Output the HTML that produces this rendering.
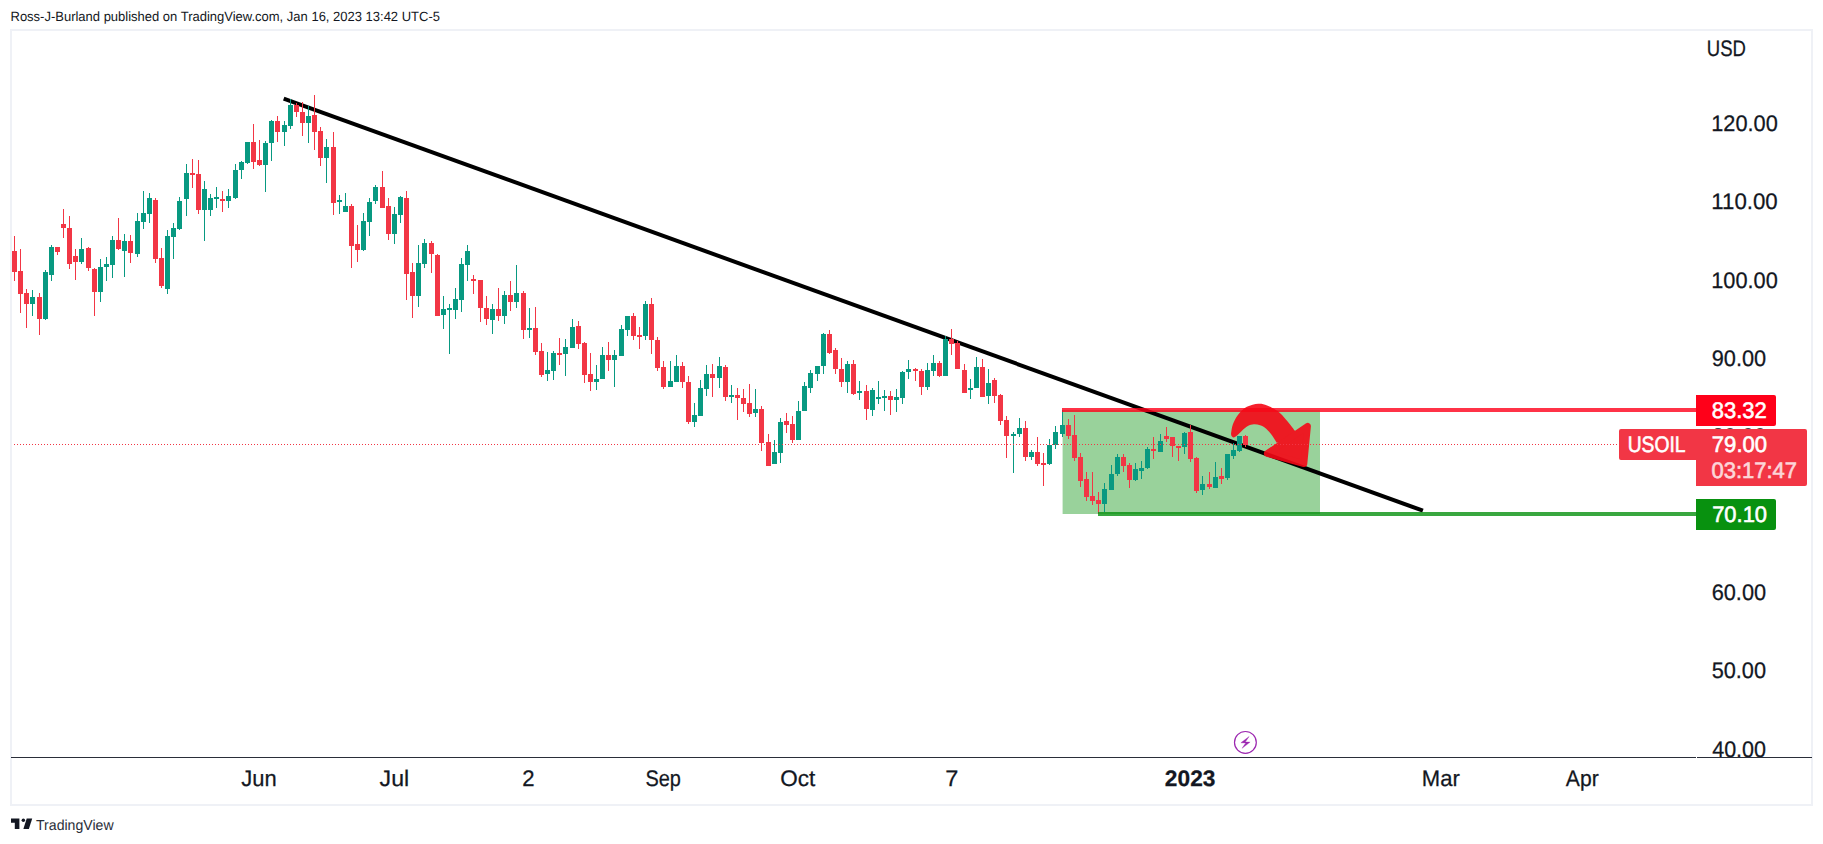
<!DOCTYPE html>
<html lang="en"><head><meta charset="utf-8"><title>USOIL chart</title>
<style>html,body{margin:0;padding:0;background:#fff;}body{width:1823px;height:844px;overflow:hidden;}svg{display:block;}text{font-family:"Liberation Sans", Arial, sans-serif;text-rendering:geometricPrecision;}</style>
</head><body>
<svg width="1823" height="844" viewBox="0 0 1823 844">
<rect x="0" y="0" width="1823" height="844" fill="#ffffff"/>
<text x="10.50" y="21.00" font-size="13.4" fill="#131722" textLength="429.46" lengthAdjust="spacingAndGlyphs">Ross-J-Burland published on TradingView.com, Jan 16, 2023 13:42 UTC-5</text>
<rect x="11" y="30" width="1801" height="775" fill="none" stroke="#eff1f6" stroke-width="2" shape-rendering="crispEdges"/>
<text x="1706.80" y="55.80" font-size="22.5" fill="#131722" stroke="#131722" stroke-width="0.25" textLength="39.15" lengthAdjust="spacingAndGlyphs">USD</text>
<text x="1711.23" y="131.00" font-size="22.5" fill="#131722" stroke="#131722" stroke-width="0.25" textLength="66.54" lengthAdjust="spacingAndGlyphs">120.00</text>
<text x="1711.30" y="209.00" font-size="22.5" fill="#131722" stroke="#131722" stroke-width="0.25" textLength="66.41" lengthAdjust="spacingAndGlyphs">110.00</text>
<text x="1711.23" y="288.00" font-size="22.5" fill="#131722" stroke="#131722" stroke-width="0.25" textLength="66.54" lengthAdjust="spacingAndGlyphs">100.00</text>
<text x="1711.70" y="366.00" font-size="22.5" fill="#131722" stroke="#131722" stroke-width="0.25" textLength="54.44" lengthAdjust="spacingAndGlyphs">90.00</text>
<text x="1711.88" y="444.00" font-size="22.5" fill="#131722" stroke="#131722" stroke-width="0.25" textLength="54.30" lengthAdjust="spacingAndGlyphs">80.00</text>
<text x="1711.76" y="522.00" font-size="22.5" fill="#131722" stroke="#131722" stroke-width="0.25" textLength="54.36" lengthAdjust="spacingAndGlyphs">70.00</text>
<text x="1711.68" y="600.00" font-size="22.5" fill="#131722" stroke="#131722" stroke-width="0.25" textLength="54.42" lengthAdjust="spacingAndGlyphs">60.00</text>
<text x="1711.64" y="678.00" font-size="22.5" fill="#131722" stroke="#131722" stroke-width="0.25" textLength="54.45" lengthAdjust="spacingAndGlyphs">50.00</text>
<clipPath id="c40"><rect x="1697" y="730" width="115" height="27"/></clipPath>
<text x="1712.17" y="757.00" font-size="22.5" fill="#131722" stroke="#131722" stroke-width="0.25" textLength="53.92" lengthAdjust="spacingAndGlyphs" clip-path="url(#c40)">40.00</text>
<rect x="1062.6" y="410" width="257.4" height="104" fill="#4caf50" fill-opacity="0.57"/>
<line x1="283.7" y1="98.6" x2="1422.9" y2="510.7" stroke="#000" stroke-width="4"/>
<g shape-rendering="crispEdges">
<rect x="14" y="236" width="1" height="45" fill="#f23645"/>
<rect x="12" y="251" width="5" height="21" fill="#f23645"/>
<rect x="20" y="249" width="1" height="64" fill="#f23645"/>
<rect x="18" y="271" width="5" height="23" fill="#f23645"/>
<rect x="26" y="289" width="1" height="39" fill="#f23645"/>
<rect x="24" y="293" width="5" height="11" fill="#f23645"/>
<rect x="32" y="290" width="1" height="26" fill="#089981"/>
<rect x="30" y="297" width="5" height="7" fill="#089981"/>
<rect x="39" y="293" width="1" height="42" fill="#f23645"/>
<rect x="37" y="297" width="5" height="22" fill="#f23645"/>
<rect x="45" y="270" width="1" height="50" fill="#089981"/>
<rect x="43" y="272" width="5" height="47" fill="#089981"/>
<rect x="51" y="245" width="1" height="36" fill="#089981"/>
<rect x="49" y="247" width="5" height="28" fill="#089981"/>
<rect x="57" y="247" width="1" height="8" fill="#f23645"/>
<rect x="55" y="247" width="5" height="5" fill="#f23645"/>
<rect x="63" y="209" width="1" height="29" fill="#f23645"/>
<rect x="61" y="224" width="5" height="4" fill="#f23645"/>
<rect x="69" y="216" width="1" height="53" fill="#f23645"/>
<rect x="67" y="228" width="5" height="36" fill="#f23645"/>
<rect x="75" y="249" width="1" height="31" fill="#f23645"/>
<rect x="73" y="256" width="5" height="6" fill="#f23645"/>
<rect x="81" y="238" width="1" height="26" fill="#089981"/>
<rect x="79" y="249" width="5" height="13" fill="#089981"/>
<rect x="88" y="247" width="1" height="24" fill="#f23645"/>
<rect x="86" y="248" width="5" height="20" fill="#f23645"/>
<rect x="94" y="268" width="1" height="48" fill="#f23645"/>
<rect x="92" y="269" width="5" height="23" fill="#f23645"/>
<rect x="100" y="259" width="1" height="43" fill="#089981"/>
<rect x="98" y="267" width="5" height="25" fill="#089981"/>
<rect x="106" y="257" width="1" height="24" fill="#089981"/>
<rect x="104" y="264" width="5" height="3" fill="#089981"/>
<rect x="112" y="236" width="1" height="42" fill="#089981"/>
<rect x="110" y="240" width="5" height="25" fill="#089981"/>
<rect x="118" y="218" width="1" height="32" fill="#f23645"/>
<rect x="116" y="240" width="5" height="9" fill="#f23645"/>
<rect x="124" y="234" width="1" height="43" fill="#089981"/>
<rect x="122" y="241" width="5" height="10" fill="#089981"/>
<rect x="130" y="235" width="1" height="28" fill="#f23645"/>
<rect x="128" y="241" width="5" height="12" fill="#f23645"/>
<rect x="137" y="213" width="1" height="44" fill="#089981"/>
<rect x="135" y="221" width="5" height="33" fill="#089981"/>
<rect x="143" y="191" width="1" height="38" fill="#089981"/>
<rect x="141" y="213" width="5" height="9" fill="#089981"/>
<rect x="149" y="193" width="1" height="30" fill="#089981"/>
<rect x="147" y="198" width="5" height="16" fill="#089981"/>
<rect x="155" y="198" width="1" height="65" fill="#f23645"/>
<rect x="153" y="200" width="5" height="59" fill="#f23645"/>
<rect x="161" y="248" width="1" height="40" fill="#f23645"/>
<rect x="159" y="258" width="5" height="28" fill="#f23645"/>
<rect x="167" y="230" width="1" height="64" fill="#089981"/>
<rect x="165" y="236" width="5" height="53" fill="#089981"/>
<rect x="173" y="223" width="1" height="36" fill="#089981"/>
<rect x="171" y="228" width="5" height="9" fill="#089981"/>
<rect x="179" y="197" width="1" height="33" fill="#089981"/>
<rect x="177" y="201" width="5" height="28" fill="#089981"/>
<rect x="186" y="164" width="1" height="52" fill="#089981"/>
<rect x="184" y="173" width="5" height="26" fill="#089981"/>
<rect x="192" y="159" width="1" height="29" fill="#f23645"/>
<rect x="190" y="173" width="5" height="2" fill="#f23645"/>
<rect x="198" y="160" width="1" height="54" fill="#f23645"/>
<rect x="196" y="174" width="5" height="36" fill="#f23645"/>
<rect x="204" y="181" width="1" height="60" fill="#089981"/>
<rect x="202" y="189" width="5" height="21" fill="#089981"/>
<rect x="210" y="194" width="1" height="22" fill="#089981"/>
<rect x="208" y="198" width="5" height="12" fill="#089981"/>
<rect x="216" y="187" width="1" height="21" fill="#089981"/>
<rect x="214" y="197" width="5" height="2" fill="#089981"/>
<rect x="222" y="191" width="1" height="21" fill="#f23645"/>
<rect x="220" y="199" width="5" height="2" fill="#f23645"/>
<rect x="228" y="189" width="1" height="19" fill="#089981"/>
<rect x="226" y="196" width="5" height="5" fill="#089981"/>
<rect x="235" y="164" width="1" height="35" fill="#089981"/>
<rect x="233" y="170" width="5" height="28" fill="#089981"/>
<rect x="241" y="161" width="1" height="18" fill="#089981"/>
<rect x="239" y="162" width="5" height="8" fill="#089981"/>
<rect x="247" y="142" width="1" height="22" fill="#089981"/>
<rect x="245" y="142" width="5" height="21" fill="#089981"/>
<rect x="253" y="124" width="1" height="45" fill="#f23645"/>
<rect x="251" y="142" width="5" height="20" fill="#f23645"/>
<rect x="259" y="140" width="1" height="26" fill="#f23645"/>
<rect x="257" y="160" width="5" height="5" fill="#f23645"/>
<rect x="265" y="141" width="1" height="51" fill="#089981"/>
<rect x="263" y="143" width="5" height="22" fill="#089981"/>
<rect x="271" y="120" width="1" height="41" fill="#089981"/>
<rect x="269" y="121" width="5" height="22" fill="#089981"/>
<rect x="277" y="116" width="1" height="26" fill="#f23645"/>
<rect x="275" y="121" width="5" height="11" fill="#f23645"/>
<rect x="284" y="121" width="1" height="25" fill="#089981"/>
<rect x="282" y="125" width="5" height="7" fill="#089981"/>
<rect x="290" y="99" width="1" height="30" fill="#089981"/>
<rect x="288" y="105" width="5" height="21" fill="#089981"/>
<rect x="296" y="103" width="1" height="14" fill="#f23645"/>
<rect x="294" y="105" width="5" height="7" fill="#f23645"/>
<rect x="302" y="102" width="1" height="34" fill="#f23645"/>
<rect x="300" y="112" width="5" height="11" fill="#f23645"/>
<rect x="308" y="106" width="1" height="37" fill="#089981"/>
<rect x="306" y="116" width="5" height="7" fill="#089981"/>
<rect x="314" y="95" width="1" height="55" fill="#f23645"/>
<rect x="312" y="115" width="5" height="17" fill="#f23645"/>
<rect x="320" y="127" width="1" height="39" fill="#f23645"/>
<rect x="318" y="131" width="5" height="27" fill="#f23645"/>
<rect x="326" y="139" width="1" height="44" fill="#089981"/>
<rect x="324" y="147" width="5" height="11" fill="#089981"/>
<rect x="333" y="132" width="1" height="83" fill="#f23645"/>
<rect x="331" y="147" width="5" height="56" fill="#f23645"/>
<rect x="339" y="195" width="1" height="19" fill="#089981"/>
<rect x="337" y="200" width="5" height="2" fill="#089981"/>
<rect x="345" y="193" width="1" height="19" fill="#089981"/>
<rect x="343" y="206" width="5" height="6" fill="#089981"/>
<rect x="351" y="204" width="1" height="64" fill="#f23645"/>
<rect x="349" y="206" width="5" height="40" fill="#f23645"/>
<rect x="357" y="225" width="1" height="37" fill="#f23645"/>
<rect x="355" y="244" width="5" height="6" fill="#f23645"/>
<rect x="363" y="213" width="1" height="38" fill="#089981"/>
<rect x="361" y="221" width="5" height="29" fill="#089981"/>
<rect x="369" y="198" width="1" height="38" fill="#089981"/>
<rect x="367" y="202" width="5" height="20" fill="#089981"/>
<rect x="375" y="185" width="1" height="19" fill="#089981"/>
<rect x="373" y="187" width="5" height="14" fill="#089981"/>
<rect x="382" y="171" width="1" height="37" fill="#f23645"/>
<rect x="380" y="187" width="5" height="21" fill="#f23645"/>
<rect x="388" y="198" width="1" height="42" fill="#f23645"/>
<rect x="386" y="206" width="5" height="28" fill="#f23645"/>
<rect x="394" y="207" width="1" height="37" fill="#089981"/>
<rect x="392" y="214" width="5" height="20" fill="#089981"/>
<rect x="400" y="196" width="1" height="27" fill="#089981"/>
<rect x="398" y="197" width="5" height="18" fill="#089981"/>
<rect x="406" y="191" width="1" height="109" fill="#f23645"/>
<rect x="404" y="198" width="5" height="76" fill="#f23645"/>
<rect x="412" y="263" width="1" height="55" fill="#f23645"/>
<rect x="410" y="272" width="5" height="24" fill="#f23645"/>
<rect x="418" y="245" width="1" height="62" fill="#089981"/>
<rect x="416" y="263" width="5" height="33" fill="#089981"/>
<rect x="424" y="239" width="1" height="29" fill="#089981"/>
<rect x="422" y="243" width="5" height="21" fill="#089981"/>
<rect x="431" y="241" width="1" height="32" fill="#f23645"/>
<rect x="429" y="243" width="5" height="11" fill="#f23645"/>
<rect x="437" y="254" width="1" height="62" fill="#f23645"/>
<rect x="435" y="255" width="5" height="61" fill="#f23645"/>
<rect x="443" y="296" width="1" height="33" fill="#089981"/>
<rect x="441" y="309" width="5" height="6" fill="#089981"/>
<rect x="449" y="304" width="1" height="50" fill="#089981"/>
<rect x="447" y="308" width="5" height="2" fill="#089981"/>
<rect x="455" y="288" width="1" height="31" fill="#089981"/>
<rect x="453" y="299" width="5" height="11" fill="#089981"/>
<rect x="461" y="258" width="1" height="54" fill="#089981"/>
<rect x="459" y="264" width="5" height="36" fill="#089981"/>
<rect x="467" y="245" width="1" height="36" fill="#089981"/>
<rect x="465" y="251" width="5" height="14" fill="#089981"/>
<rect x="473" y="275" width="1" height="19" fill="#f23645"/>
<rect x="471" y="279" width="5" height="2" fill="#f23645"/>
<rect x="480" y="280" width="1" height="42" fill="#f23645"/>
<rect x="478" y="280" width="5" height="28" fill="#f23645"/>
<rect x="486" y="296" width="1" height="29" fill="#f23645"/>
<rect x="484" y="308" width="5" height="11" fill="#f23645"/>
<rect x="492" y="304" width="1" height="30" fill="#089981"/>
<rect x="490" y="309" width="5" height="11" fill="#089981"/>
<rect x="498" y="288" width="1" height="33" fill="#f23645"/>
<rect x="496" y="309" width="5" height="7" fill="#f23645"/>
<rect x="504" y="291" width="1" height="33" fill="#089981"/>
<rect x="502" y="295" width="5" height="21" fill="#089981"/>
<rect x="510" y="281" width="1" height="30" fill="#f23645"/>
<rect x="508" y="295" width="5" height="7" fill="#f23645"/>
<rect x="516" y="265" width="1" height="43" fill="#089981"/>
<rect x="514" y="293" width="5" height="9" fill="#089981"/>
<rect x="523" y="291" width="1" height="48" fill="#f23645"/>
<rect x="521" y="293" width="5" height="37" fill="#f23645"/>
<rect x="529" y="308" width="1" height="30" fill="#089981"/>
<rect x="527" y="328" width="5" height="2" fill="#089981"/>
<rect x="535" y="307" width="1" height="48" fill="#f23645"/>
<rect x="533" y="328" width="5" height="24" fill="#f23645"/>
<rect x="541" y="343" width="1" height="34" fill="#f23645"/>
<rect x="539" y="351" width="5" height="24" fill="#f23645"/>
<rect x="547" y="352" width="1" height="29" fill="#089981"/>
<rect x="545" y="370" width="5" height="4" fill="#089981"/>
<rect x="553" y="351" width="1" height="29" fill="#089981"/>
<rect x="551" y="353" width="5" height="18" fill="#089981"/>
<rect x="559" y="338" width="1" height="27" fill="#f23645"/>
<rect x="557" y="353" width="5" height="2" fill="#f23645"/>
<rect x="565" y="339" width="1" height="37" fill="#089981"/>
<rect x="563" y="347" width="5" height="7" fill="#089981"/>
<rect x="572" y="319" width="1" height="29" fill="#089981"/>
<rect x="570" y="327" width="5" height="21" fill="#089981"/>
<rect x="578" y="321" width="1" height="28" fill="#f23645"/>
<rect x="576" y="326" width="5" height="18" fill="#f23645"/>
<rect x="584" y="342" width="1" height="41" fill="#f23645"/>
<rect x="582" y="343" width="5" height="32" fill="#f23645"/>
<rect x="590" y="353" width="1" height="38" fill="#f23645"/>
<rect x="588" y="374" width="5" height="8" fill="#f23645"/>
<rect x="596" y="365" width="1" height="25" fill="#089981"/>
<rect x="594" y="379" width="5" height="3" fill="#089981"/>
<rect x="602" y="347" width="1" height="32" fill="#089981"/>
<rect x="600" y="355" width="5" height="24" fill="#089981"/>
<rect x="608" y="342" width="1" height="29" fill="#f23645"/>
<rect x="606" y="355" width="5" height="5" fill="#f23645"/>
<rect x="614" y="350" width="1" height="37" fill="#089981"/>
<rect x="612" y="355" width="5" height="5" fill="#089981"/>
<rect x="621" y="325" width="1" height="31" fill="#089981"/>
<rect x="619" y="329" width="5" height="27" fill="#089981"/>
<rect x="627" y="316" width="1" height="20" fill="#089981"/>
<rect x="625" y="316" width="5" height="14" fill="#089981"/>
<rect x="633" y="313" width="1" height="27" fill="#f23645"/>
<rect x="631" y="316" width="5" height="20" fill="#f23645"/>
<rect x="639" y="327" width="1" height="22" fill="#f23645"/>
<rect x="637" y="335" width="5" height="2" fill="#f23645"/>
<rect x="645" y="301" width="1" height="39" fill="#089981"/>
<rect x="643" y="304" width="5" height="32" fill="#089981"/>
<rect x="651" y="298" width="1" height="56" fill="#f23645"/>
<rect x="649" y="304" width="5" height="36" fill="#f23645"/>
<rect x="657" y="337" width="1" height="34" fill="#f23645"/>
<rect x="655" y="340" width="5" height="28" fill="#f23645"/>
<rect x="663" y="361" width="1" height="28" fill="#f23645"/>
<rect x="661" y="367" width="5" height="20" fill="#f23645"/>
<rect x="670" y="361" width="1" height="26" fill="#089981"/>
<rect x="668" y="381" width="5" height="6" fill="#089981"/>
<rect x="676" y="355" width="1" height="27" fill="#089981"/>
<rect x="674" y="366" width="5" height="16" fill="#089981"/>
<rect x="682" y="362" width="1" height="26" fill="#f23645"/>
<rect x="680" y="366" width="5" height="16" fill="#f23645"/>
<rect x="688" y="376" width="1" height="48" fill="#f23645"/>
<rect x="686" y="382" width="5" height="40" fill="#f23645"/>
<rect x="694" y="403" width="1" height="24" fill="#089981"/>
<rect x="692" y="415" width="5" height="7" fill="#089981"/>
<rect x="700" y="380" width="1" height="36" fill="#089981"/>
<rect x="698" y="388" width="5" height="28" fill="#089981"/>
<rect x="706" y="365" width="1" height="31" fill="#089981"/>
<rect x="704" y="374" width="5" height="15" fill="#089981"/>
<rect x="712" y="364" width="1" height="33" fill="#f23645"/>
<rect x="710" y="374" width="5" height="4" fill="#f23645"/>
<rect x="719" y="357" width="1" height="31" fill="#089981"/>
<rect x="717" y="366" width="5" height="12" fill="#089981"/>
<rect x="725" y="365" width="1" height="36" fill="#f23645"/>
<rect x="723" y="367" width="5" height="30" fill="#f23645"/>
<rect x="731" y="385" width="1" height="18" fill="#089981"/>
<rect x="729" y="395" width="5" height="2" fill="#089981"/>
<rect x="737" y="388" width="1" height="32" fill="#f23645"/>
<rect x="735" y="395" width="5" height="3" fill="#f23645"/>
<rect x="743" y="389" width="1" height="23" fill="#f23645"/>
<rect x="741" y="398" width="5" height="6" fill="#f23645"/>
<rect x="749" y="384" width="1" height="33" fill="#f23645"/>
<rect x="747" y="403" width="5" height="11" fill="#f23645"/>
<rect x="755" y="389" width="1" height="28" fill="#089981"/>
<rect x="753" y="409" width="5" height="4" fill="#089981"/>
<rect x="761" y="406" width="1" height="45" fill="#f23645"/>
<rect x="759" y="409" width="5" height="34" fill="#f23645"/>
<rect x="768" y="434" width="1" height="32" fill="#f23645"/>
<rect x="766" y="442" width="5" height="24" fill="#f23645"/>
<rect x="774" y="440" width="1" height="24" fill="#089981"/>
<rect x="772" y="452" width="5" height="12" fill="#089981"/>
<rect x="780" y="418" width="1" height="45" fill="#089981"/>
<rect x="778" y="422" width="5" height="31" fill="#089981"/>
<rect x="786" y="413" width="1" height="20" fill="#f23645"/>
<rect x="784" y="421" width="5" height="4" fill="#f23645"/>
<rect x="792" y="416" width="1" height="27" fill="#f23645"/>
<rect x="790" y="424" width="5" height="16" fill="#f23645"/>
<rect x="798" y="401" width="1" height="39" fill="#089981"/>
<rect x="796" y="411" width="5" height="29" fill="#089981"/>
<rect x="804" y="382" width="1" height="29" fill="#089981"/>
<rect x="802" y="386" width="5" height="25" fill="#089981"/>
<rect x="810" y="370" width="1" height="23" fill="#089981"/>
<rect x="808" y="373" width="5" height="15" fill="#089981"/>
<rect x="817" y="366" width="1" height="15" fill="#089981"/>
<rect x="815" y="366" width="5" height="8" fill="#089981"/>
<rect x="823" y="333" width="1" height="41" fill="#089981"/>
<rect x="821" y="334" width="5" height="32" fill="#089981"/>
<rect x="829" y="330" width="1" height="24" fill="#f23645"/>
<rect x="827" y="334" width="5" height="19" fill="#f23645"/>
<rect x="835" y="348" width="1" height="26" fill="#f23645"/>
<rect x="833" y="350" width="5" height="19" fill="#f23645"/>
<rect x="841" y="358" width="1" height="29" fill="#f23645"/>
<rect x="839" y="369" width="5" height="13" fill="#f23645"/>
<rect x="847" y="361" width="1" height="32" fill="#089981"/>
<rect x="845" y="364" width="5" height="18" fill="#089981"/>
<rect x="853" y="360" width="1" height="35" fill="#f23645"/>
<rect x="851" y="364" width="5" height="30" fill="#f23645"/>
<rect x="859" y="381" width="1" height="19" fill="#089981"/>
<rect x="857" y="391" width="5" height="2" fill="#089981"/>
<rect x="866" y="385" width="1" height="35" fill="#f23645"/>
<rect x="864" y="391" width="5" height="18" fill="#f23645"/>
<rect x="872" y="388" width="1" height="28" fill="#089981"/>
<rect x="870" y="390" width="5" height="20" fill="#089981"/>
<rect x="878" y="381" width="1" height="23" fill="#089981"/>
<rect x="876" y="397" width="5" height="2" fill="#089981"/>
<rect x="884" y="390" width="1" height="21" fill="#089981"/>
<rect x="882" y="396" width="5" height="2" fill="#089981"/>
<rect x="890" y="391" width="1" height="24" fill="#f23645"/>
<rect x="888" y="396" width="5" height="4" fill="#f23645"/>
<rect x="896" y="389" width="1" height="23" fill="#089981"/>
<rect x="894" y="397" width="5" height="3" fill="#089981"/>
<rect x="902" y="371" width="1" height="33" fill="#089981"/>
<rect x="900" y="372" width="5" height="26" fill="#089981"/>
<rect x="908" y="360" width="1" height="19" fill="#089981"/>
<rect x="906" y="369" width="5" height="3" fill="#089981"/>
<rect x="915" y="368" width="1" height="13" fill="#f23645"/>
<rect x="913" y="369" width="5" height="2" fill="#f23645"/>
<rect x="921" y="369" width="1" height="26" fill="#f23645"/>
<rect x="919" y="371" width="5" height="16" fill="#f23645"/>
<rect x="927" y="363" width="1" height="27" fill="#089981"/>
<rect x="925" y="370" width="5" height="17" fill="#089981"/>
<rect x="933" y="355" width="1" height="21" fill="#089981"/>
<rect x="931" y="363" width="5" height="8" fill="#089981"/>
<rect x="939" y="361" width="1" height="16" fill="#f23645"/>
<rect x="937" y="363" width="5" height="13" fill="#f23645"/>
<rect x="945" y="336" width="1" height="40" fill="#089981"/>
<rect x="943" y="339" width="5" height="37" fill="#089981"/>
<rect x="951" y="329" width="1" height="26" fill="#f23645"/>
<rect x="949" y="339" width="5" height="5" fill="#f23645"/>
<rect x="957" y="341" width="1" height="28" fill="#f23645"/>
<rect x="955" y="343" width="5" height="26" fill="#f23645"/>
<rect x="964" y="364" width="1" height="29" fill="#f23645"/>
<rect x="962" y="370" width="5" height="23" fill="#f23645"/>
<rect x="970" y="379" width="1" height="20" fill="#089981"/>
<rect x="968" y="388" width="5" height="2" fill="#089981"/>
<rect x="976" y="357" width="1" height="31" fill="#089981"/>
<rect x="974" y="367" width="5" height="21" fill="#089981"/>
<rect x="982" y="359" width="1" height="38" fill="#f23645"/>
<rect x="980" y="367" width="5" height="30" fill="#f23645"/>
<rect x="988" y="369" width="1" height="35" fill="#089981"/>
<rect x="986" y="383" width="5" height="13" fill="#089981"/>
<rect x="994" y="378" width="1" height="25" fill="#f23645"/>
<rect x="992" y="380" width="5" height="16" fill="#f23645"/>
<rect x="1000" y="394" width="1" height="31" fill="#f23645"/>
<rect x="998" y="395" width="5" height="26" fill="#f23645"/>
<rect x="1006" y="416" width="1" height="42" fill="#f23645"/>
<rect x="1004" y="420" width="5" height="16" fill="#f23645"/>
<rect x="1013" y="432" width="1" height="41" fill="#089981"/>
<rect x="1011" y="434" width="5" height="2" fill="#089981"/>
<rect x="1019" y="418" width="1" height="19" fill="#089981"/>
<rect x="1017" y="428" width="5" height="6" fill="#089981"/>
<rect x="1025" y="421" width="1" height="40" fill="#f23645"/>
<rect x="1023" y="428" width="5" height="29" fill="#f23645"/>
<rect x="1031" y="450" width="1" height="10" fill="#089981"/>
<rect x="1029" y="452" width="5" height="5" fill="#089981"/>
<rect x="1037" y="437" width="1" height="29" fill="#f23645"/>
<rect x="1035" y="452" width="5" height="12" fill="#f23645"/>
<rect x="1043" y="453" width="1" height="33" fill="#f23645"/>
<rect x="1041" y="463" width="5" height="2" fill="#f23645"/>
<rect x="1049" y="439" width="1" height="26" fill="#089981"/>
<rect x="1047" y="445" width="5" height="19" fill="#089981"/>
<rect x="1055" y="426" width="1" height="23" fill="#089981"/>
<rect x="1053" y="432" width="5" height="13" fill="#089981"/>
<rect x="1062" y="410" width="1" height="27" fill="#089981"/>
<rect x="1060" y="425" width="5" height="9" fill="#089981"/>
<rect x="1068" y="419" width="1" height="20" fill="#f23645"/>
<rect x="1066" y="425" width="5" height="11" fill="#f23645"/>
<rect x="1074" y="415" width="1" height="46" fill="#f23645"/>
<rect x="1072" y="435" width="5" height="23" fill="#f23645"/>
<rect x="1080" y="453" width="1" height="34" fill="#f23645"/>
<rect x="1078" y="457" width="5" height="24" fill="#f23645"/>
<rect x="1086" y="472" width="1" height="29" fill="#f23645"/>
<rect x="1084" y="479" width="5" height="18" fill="#f23645"/>
<rect x="1092" y="472" width="1" height="33" fill="#f23645"/>
<rect x="1090" y="496" width="5" height="5" fill="#f23645"/>
<rect x="1098" y="492" width="1" height="22" fill="#f23645"/>
<rect x="1096" y="500" width="5" height="4" fill="#f23645"/>
<rect x="1104" y="483" width="1" height="29" fill="#089981"/>
<rect x="1102" y="489" width="5" height="15" fill="#089981"/>
<rect x="1111" y="465" width="1" height="25" fill="#089981"/>
<rect x="1109" y="474" width="5" height="16" fill="#089981"/>
<rect x="1117" y="454" width="1" height="22" fill="#089981"/>
<rect x="1115" y="457" width="5" height="17" fill="#089981"/>
<rect x="1123" y="454" width="1" height="18" fill="#f23645"/>
<rect x="1121" y="457" width="5" height="9" fill="#f23645"/>
<rect x="1129" y="463" width="1" height="25" fill="#f23645"/>
<rect x="1127" y="465" width="5" height="15" fill="#f23645"/>
<rect x="1135" y="463" width="1" height="18" fill="#089981"/>
<rect x="1133" y="469" width="5" height="11" fill="#089981"/>
<rect x="1141" y="461" width="1" height="18" fill="#089981"/>
<rect x="1139" y="468" width="5" height="3" fill="#089981"/>
<rect x="1147" y="447" width="1" height="22" fill="#089981"/>
<rect x="1145" y="449" width="5" height="19" fill="#089981"/>
<rect x="1153" y="437" width="1" height="22" fill="#f23645"/>
<rect x="1151" y="449" width="5" height="2" fill="#f23645"/>
<rect x="1160" y="434" width="1" height="18" fill="#089981"/>
<rect x="1158" y="441" width="5" height="11" fill="#089981"/>
<rect x="1166" y="427" width="1" height="15" fill="#f23645"/>
<rect x="1164" y="436" width="5" height="3" fill="#f23645"/>
<rect x="1172" y="437" width="1" height="20" fill="#f23645"/>
<rect x="1170" y="437" width="5" height="9" fill="#f23645"/>
<rect x="1178" y="446" width="1" height="15" fill="#f23645"/>
<rect x="1176" y="446" width="5" height="2" fill="#f23645"/>
<rect x="1184" y="432" width="1" height="22" fill="#089981"/>
<rect x="1182" y="433" width="5" height="14" fill="#089981"/>
<rect x="1190" y="425" width="1" height="37" fill="#f23645"/>
<rect x="1188" y="432" width="5" height="27" fill="#f23645"/>
<rect x="1196" y="457" width="1" height="36" fill="#f23645"/>
<rect x="1194" y="458" width="5" height="33" fill="#f23645"/>
<rect x="1202" y="476" width="1" height="19" fill="#089981"/>
<rect x="1200" y="484" width="5" height="6" fill="#089981"/>
<rect x="1209" y="472" width="1" height="17" fill="#f23645"/>
<rect x="1207" y="484" width="5" height="3" fill="#f23645"/>
<rect x="1215" y="462" width="1" height="26" fill="#089981"/>
<rect x="1213" y="477" width="5" height="11" fill="#089981"/>
<rect x="1221" y="468" width="1" height="16" fill="#f23645"/>
<rect x="1219" y="476" width="5" height="3" fill="#f23645"/>
<rect x="1227" y="454" width="1" height="26" fill="#089981"/>
<rect x="1225" y="454" width="5" height="24" fill="#089981"/>
<rect x="1233" y="443" width="1" height="16" fill="#089981"/>
<rect x="1231" y="450" width="5" height="6" fill="#089981"/>
<rect x="1239" y="436" width="1" height="16" fill="#089981"/>
<rect x="1237" y="436" width="5" height="15" fill="#089981"/>
<rect x="1245" y="435" width="1" height="12" fill="#f23645"/>
<rect x="1243" y="436" width="5" height="9" fill="#f23645"/>
</g>
<rect x="1062" y="408" width="634" height="4" fill="#ff0019" fill-opacity="0.8"/>
<rect x="1098" y="512" width="598" height="4" fill="#08910f" fill-opacity="0.8"/>
<g opacity="0.9"><path d="M1231.1 433.1C1231.4 431.6 1231.7 427.4 1232.9 424.3C1234.1 421.2 1235.8 417.6 1238.1 414.7C1240.4 411.8 1243.5 408.6 1246.9 406.8C1250.3 405.0 1254.9 403.9 1258.3 403.7C1261.7 403.5 1263.9 404.2 1267.1 405.4C1270.3 406.6 1274.4 408.7 1277.6 411.1C1280.8 413.5 1283.4 416.7 1286.3 419.9C1289.2 423.1 1293.3 428.6 1294.7 430.4L1300 440L1276.7 442.7C1276.0 441.5 1274.0 438.0 1272.3 435.7C1270.5 433.4 1268.2 430.4 1266.2 428.7C1264.2 426.9 1262.1 425.9 1260.1 425.2C1258.0 424.5 1256.0 424.2 1253.9 424.3C1251.9 424.4 1249.8 424.9 1247.8 426.0C1245.8 427.1 1243.6 429.2 1241.7 430.9C1239.8 432.6 1237.3 435.2 1236.4 436.1Q1233.6 438.6 1232 436.6Q1230.8 435.2 1231.1 433.1Z" fill="#f60817"/><path d="M1307.6 426.2 L1304.0 463.8 L1267.2 453.5 Z" fill="#f60817" stroke="#f60817" stroke-width="6.6" stroke-linejoin="round"/></g>
<line x1="14" y1="444.5" x2="1619" y2="444.5" stroke="#f23645" stroke-width="1" stroke-dasharray="1 2" shape-rendering="crispEdges"/>
<path d="M1696 395h78a2 2 0 0 1 2 2v27a2 2 0 0 1 -2 2h-78z" fill="#ff0019"/>
<text x="1711.80" y="417.90" font-size="22.5" fill="#ffffff" stroke="#ffffff" stroke-width="0.6" textLength="55.03" lengthAdjust="spacingAndGlyphs">83.32</text>
<path d="M1696 499h78a2 2 0 0 1 2 2v27a2 2 0 0 1 -2 2h-78z" fill="#08910f"/>
<text x="1712.18" y="521.80" font-size="22.5" fill="#ffffff" stroke="#ffffff" stroke-width="0.6" textLength="54.85" lengthAdjust="spacingAndGlyphs">70.10</text>
<path d="M1621 429h184a2 2 0 0 1 2 2v53a2 2 0 0 1 -2 2h-109v-26h-75a2 2 0 0 1 -2 -2v-27a2 2 0 0 1 2 -2z" fill="#f23645"/>
<text x="1627.70" y="451.80" font-size="22.5" fill="#ffffff" stroke="#ffffff" stroke-width="0.6" textLength="57.79" lengthAdjust="spacingAndGlyphs">USOIL</text>
<text x="1711.83" y="451.80" font-size="22.5" fill="#ffffff" stroke="#ffffff" stroke-width="0.6" textLength="55.29" lengthAdjust="spacingAndGlyphs">79.00</text>
<text x="1711.56" y="478.00" font-size="22.5" fill="#ffffff" opacity="0.8" stroke="#ffffff" stroke-width="0.6" textLength="85.50" lengthAdjust="spacingAndGlyphs">03:17:47</text>
<rect x="11" y="757" width="1685" height="1" fill="#2a2e39" shape-rendering="crispEdges"/>
<rect x="1697" y="757" width="115" height="1" fill="#2a2e39" shape-rendering="crispEdges"/>
<text x="241.30" y="785.70" font-size="22.5" fill="#131722" stroke="#131722" stroke-width="0.25" textLength="35.39" lengthAdjust="spacingAndGlyphs">Jun</text>
<text x="379.59" y="785.70" font-size="22.5" fill="#131722" stroke="#131722" stroke-width="0.25" textLength="29.54" lengthAdjust="spacingAndGlyphs">Jul</text>
<text x="522.20" y="785.70" font-size="22.5" fill="#131722" stroke="#131722" stroke-width="0.25" textLength="12.33" lengthAdjust="spacingAndGlyphs">2</text>
<text x="645.49" y="785.70" font-size="22.5" fill="#131722" stroke="#131722" stroke-width="0.25" textLength="35.46" lengthAdjust="spacingAndGlyphs">Sep</text>
<text x="780.36" y="785.70" font-size="22.5" fill="#131722" stroke="#131722" stroke-width="0.25" textLength="35.03" lengthAdjust="spacingAndGlyphs">Oct</text>
<text x="945.15" y="785.70" font-size="22.5" fill="#131722" stroke="#131722" stroke-width="0.25" textLength="13.11" lengthAdjust="spacingAndGlyphs">7</text>
<text x="1164.87" y="785.70" font-size="22.5" fill="#131722" font-weight="bold" stroke="#131722" stroke-width="0.25" textLength="50.56" lengthAdjust="spacingAndGlyphs">2023</text>
<text x="1421.79" y="785.70" font-size="22.5" fill="#131722" stroke="#131722" stroke-width="0.25" textLength="38.01" lengthAdjust="spacingAndGlyphs">Mar</text>
<text x="1565.86" y="785.70" font-size="22.5" fill="#131722" stroke="#131722" stroke-width="0.25" textLength="32.90" lengthAdjust="spacingAndGlyphs">Apr</text>
<circle cx="1245.4" cy="742.4" r="10.9" fill="none" stroke="#9c27b0" stroke-width="1.2"/>
<path d="M1249.1 736.5L1240.9 742.8L1245.7 742.9L1242.1 748.3L1250.1 742.1L1245.3 742Z" fill="#9c27b0" stroke="#9c27b0" stroke-width="0.35" stroke-linejoin="round"/>
<g fill="#131722">
<path d="M11 818.5H19.4V828.9H14.8V822.8H11Z"/>
<circle cx="23.35" cy="820.3" r="1.75"/>
<path d="M26.7 818.5H32.2L28.9 828.9H23.4Z"/>
</g>
<text x="36.01" y="830.00" font-size="14.5" fill="#2a2e39" textLength="77.63" lengthAdjust="spacingAndGlyphs">TradingView</text>
</svg>
</body></html>
